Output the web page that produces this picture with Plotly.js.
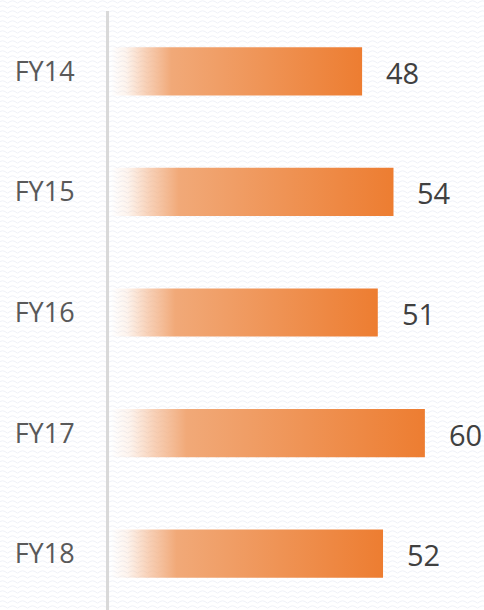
<!DOCTYPE html>
<html>
<head>
<meta charset="utf-8">
<script src="https://cdn.plot.ly/plotly-3.0.1.min.js"></script>
<style>
html,body{margin:0;padding:0;width:484px;height:610px;overflow:hidden;background-color:#ffffff;
background-image:url("data:image/svg+xml;utf8,<svg xmlns='http://www.w3.org/2000/svg' width='10' height='5'><path d='M0 1.5 L2.5 0.8 L5 1.5 L7.5 3.2 L10 1.5' fill='none' stroke='%23eff1f8' stroke-width='1'/></svg>");}
#chart{width:484px;height:614px;}
</style>
</head>
<body>
<div id="chart"></div>
<script>
const categories = ['FY14','FY15','FY16','FY17','FY18'];
const values = [48, 54, 51, 60, 52];
const valueLabels = ['48','54','51','60','52'];

const trace = {
  type: 'bar',
  orientation: 'h',
  x: values,
  y: categories,
  marker: {color: '#ed7d31', line: {width: 0}},
  hoverinfo: 'none'
};

const annotations = categories.map((c, i) => ({
  x: values[i], y: c, xref: 'x', yref: 'y',
  text: valueLabels[i], showarrow: false,
  xanchor: 'left', yanchor: 'middle', xshift: 22, yshift: -1,
  font: {family: 'Open Sans, sans-serif', size: 29, color: '#404040'}
}));

const layout = {
  width: 484, height: 614,
  margin: {l: 109, r: 0, t: 11, b: 0, pad: 0},
  paper_bgcolor: 'rgba(0,0,0,0)',
  plot_bgcolor: 'rgba(0,0,0,0)',
  showlegend: false,
  bargap: 0.6,
  xaxis: {range: [-0.38, 71.3], visible: false, fixedrange: true},
  yaxis: {
    type: 'category', autorange: 'reversed',
    showline: true, linecolor: '#d9d9d9', linewidth: 3,
    showgrid: false, zeroline: false, ticks: '',
    ticklabelstandoff: 26,
    tickfont: {family: 'Open Sans, sans-serif', size: 27, color: '#595959'}
  },
  annotations: annotations
};

Plotly.newPlot('chart', [trace], layout, {displayModeBar: false, staticPlot: true}).then(gd => {
  const svg = gd.querySelector('svg.main-svg');
  const ns = 'http://www.w3.org/2000/svg';
  let defs = svg.querySelector('defs');
  if (!defs) { defs = document.createElementNS(ns, 'defs'); svg.insertBefore(defs, svg.firstChild); }
  const lg = document.createElementNS(ns, 'linearGradient');
  lg.setAttribute('id', 'barGrad');
  lg.setAttribute('x1', '0'); lg.setAttribute('y1', '0');
  lg.setAttribute('x2', '1'); lg.setAttribute('y2', '0');
  const stops = [[0, '#f4b183', 0], [0.06, '#f4b183', 0.15], [0.14, '#f3b084', 0.6], [0.24, '#f1a978', 1], [1, '#ed7d31', 1]];
  stops.forEach(s => {
    const st = document.createElementNS(ns, 'stop');
    st.setAttribute('offset', s[0]);
    st.setAttribute('stop-color', s[1]);
    st.setAttribute('stop-opacity', s[2]);
    lg.appendChild(st);
  });
  defs.appendChild(lg);
  gd.querySelectorAll('.bars path').forEach(p => { p.style.fill = 'url(#barGrad)'; p.style.fillOpacity = 1; });
});
</script>
</body>
</html>
